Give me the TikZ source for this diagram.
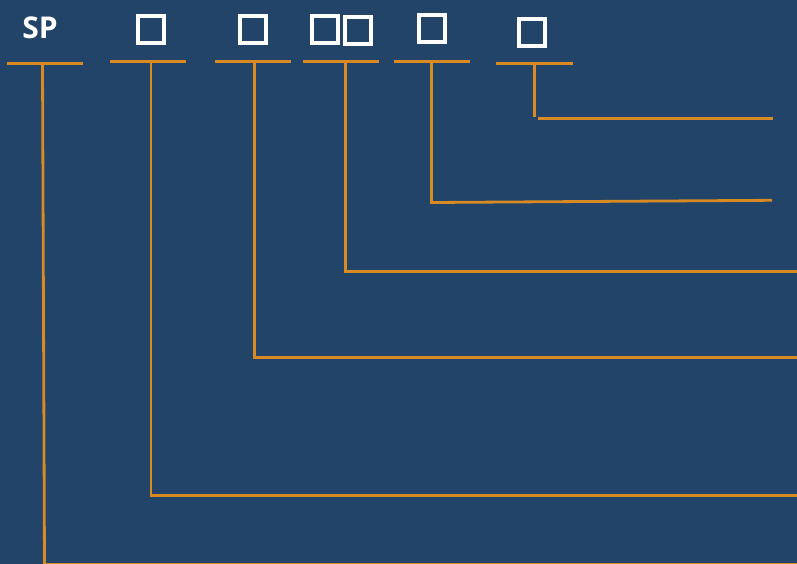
\documentclass[tikz,border=0pt]{standalone}
\usepackage{fontspec}
\setmainfont{Open Sans}
\definecolor{bgblue}{HTML}{224468}
\definecolor{lineor}{HTML}{DA8A22}
\begin{document}
\begin{tikzpicture}[x=1pt,y=-1pt,
  lbl/.style={text=white,font=\fontsize{30}{30}\selectfont\bfseries,inner sep=0pt},
  box/.style={draw=white,line width=4pt,minimum width=26pt,minimum height=27pt,inner sep=0pt},
  bar/.style={draw=lineor,line width=2.8pt},
  lead/.style={draw=lineor,line width=2.8pt,line join=miter}]
\fill[bgblue] (0,0) rectangle (797,564);
\useasboundingbox (0,0) rectangle (797,564);
\clip (0,0) rectangle (797,564);
% labels
\node[lbl] (sp) at (40,28) {SP};
\node[box] (b1) at (151,29.5) {};
\node[box] (b2) at (252.5,29.5) {};
\node[box] (b3) at (325,29.5) {};
\node[box] (b4) at (358,30.5) {};
\node[box] (b5) at (432,29) {};
\node[box] (b6) at (532,33) {};
% bars
\coordinate (l1) at (7,63.5);   \coordinate (r1) at (83,63.5);
\coordinate (l2) at (110,61.5); \coordinate (r2) at (186,61.5);
\coordinate (l3) at (215,61.5); \coordinate (r3) at (291,61.5);
\coordinate (l4) at (303,61.5); \coordinate (r4) at (379,61.5);
\coordinate (l5) at (394,61.5); \coordinate (r5) at (470,61.5);
\coordinate (l6) at (496,63.5); \coordinate (r6) at (573,63.5);
\foreach \i in {1,...,6} {\draw[bar] (l\i) -- (r\i);}
% leaders
\coordinate (t1) at (42.5,63.5); \coordinate (c1) at (44.5,564.6); \coordinate (e1) at (800,564.6);
\coordinate (t2) at (151,61.5);  \coordinate (c2) at (151,495.5);  \coordinate (e2) at (800,495.5);
\coordinate (t3) at (254.5,61.5);\coordinate (c3) at (254.5,357.5);\coordinate (e3) at (800,357.5);
\coordinate (t4) at (345.5,61.5);\coordinate (c4) at (345.5,271.5);\coordinate (e4) at (800,271.5);
\coordinate (t5) at (431.5,61.5);\coordinate (c5) at (431.5,202.5);\coordinate (e5) at (772,200.3);
\coordinate (t6) at (534.5,63.5);\coordinate (c6) at (534.5,117.5);
\coordinate (s6) at (538,118.3); \coordinate (e6) at (773,118.3);
\draw[lead] (t1) -- (c1) -- (e1);
\draw[lead] (t2) -- (c2) -- (e2);
\draw[lead] (t3) -- (c3) -- (e3);
\draw[lead] (t4) -- (c4) -- (e4);
\draw[lead] (t5) -- (c5) -- (e5);
\draw[lead] (t6) -- (c6);
\draw[lead] (s6) -- (e6);
\end{tikzpicture}
\end{document}
